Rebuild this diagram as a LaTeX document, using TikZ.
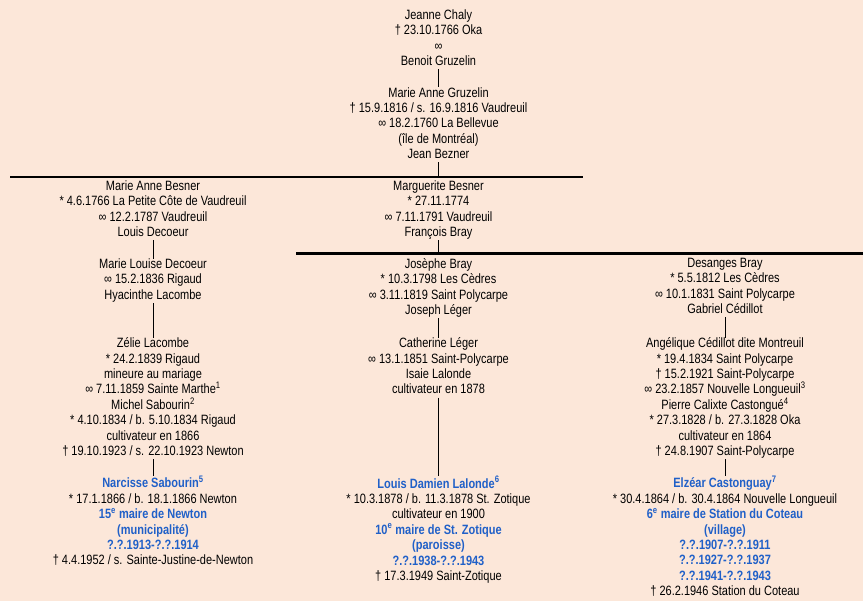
\documentclass[tikz,border=0pt]{standalone}
\usepackage{fontspec}
\setmainfont{Liberation Sans}[FakeStretch=0.815]
\definecolor{peach}{RGB}{252,231,217}
\definecolor{maireblue}{RGB}{32,96,200}
\newcommand\maire[1]{{\bfseries\color{maireblue}#1}}
\begin{document}
\begin{tikzpicture}[x=1pt,y=-1pt,
  person/.style={align=center,anchor=north,inner sep=0pt,
    font=\fontsize{13.5}{15.4}\selectfont,
    execute at begin node=\rule{0pt}{12.5pt},
    execute at end node=\rule[-3.5pt]{0pt}{3.5pt}},
  kin/.style={line width=0.9pt},
  sibs/.style={line width=2.2pt}]
\fill[peach] (0,0) rectangle (863,601);
\useasboundingbox (0,0) rectangle (863,601);
\coordinate (rowA) at (10,177);
\coordinate (rowAend) at (583,177);
\coordinate (rowB) at (296,253.5);
\coordinate (rowBend) at (863,253.5);
\node[person] (chaly) at (438.5,9.3) {Jeanne Chaly\\† 23.10.1766 Oka\\∞\\Benoit Gruzelin};
\node[person] (gruzelin) at (438.5,87.05) {Marie Anne Gruzelin\\† 15.9.1816 / s. 16.9.1816 Vaudreuil\\∞ 18.2.1760 La Bellevue\\(île de Montréal)\\Jean Bezner};
\node[person] (besnerA) at (153,180.35) {Marie Anne Besner\\* 4.6.1766 La Petite Côte de Vaudreuil\\∞ 12.2.1787 Vaudreuil\\Louis Decoeur};
\node[person] (besnerM) at (438.5,180.35) {Marguerite Besner\\* 27.11.1774\\∞ 7.11.1791 Vaudreuil\\François Bray};
\node[person] (decoeur) at (153,258.6) {Marie Louise Decoeur\\∞ 15.2.1836 Rigaud\\Hyacinthe Lacombe};
\node[person] (josephe) at (438.5,258.1) {Josèphe Bray\\* 10.3.1798 Les Cèdres\\∞ 3.11.1819 Saint Polycarpe\\Joseph Léger};
\node[person] (desanges) at (725,258.1) {Desanges Bray\\* 5.5.1812 Les Cèdres\\∞ 10.1.1831 Saint Polycarpe\\Gabriel Cédillot};
\node[person] (zelie) at (153,337.6) {Zélie Lacombe\\* 24.2.1839 Rigaud\\mineure au mariage\\∞ 7.11.1859 Sainte Marthe\textsuperscript{1}\\Michel Sabourin\textsuperscript{2}\\* 4.10.1834 / b. 5.10.1834 Rigaud\\cultivateur en 1866\\† 19.10.1923 / s. 22.10.1923 Newton};
\node[person] (catherine) at (438.5,337.6) {Catherine Léger\\∞ 13.1.1851 Saint-Polycarpe\\Isaie Lalonde\\cultivateur en 1878};
\node[person] (angelique) at (725,337.6) {Angélique Cédillot dite Montreuil\\* 19.4.1834 Saint Polycarpe\\† 15.2.1921 Saint-Polycarpe\\∞ 23.2.1857 Nouvelle Longueuil\textsuperscript{3}\\Pierre Calixte Castongué\textsuperscript{4}\\* 27.3.1828 / b. 27.3.1828 Oka\\cultivateur en 1864\\† 24.8.1907 Saint-Polycarpe};
\node[person] (narcisse) at (153,476) {\maire{Narcisse Sabourin\textsuperscript{5}}\\* 17.1.1866 / b. 18.1.1866 Newton\\\maire{15\textsuperscript{e} maire de Newton}\\\maire{(municipalité)}\\\maire{?.?.1913-?.?.1914}\\† 4.4.1952 / s. Sainte-Justine-de-Newton};
\node[person] (louis) at (438.5,476) {\maire{Louis Damien Lalonde\textsuperscript{6}}\\* 10.3.1878 / b. 11.3.1878 St. Zotique\\cultivateur en 1900\\\maire{10\textsuperscript{e} maire de St. Zotique}\\\maire{(paroisse)}\\\maire{?.?.1938-?.?.1943}\\† 17.3.1949 Saint-Zotique};
\node[person] (elzear) at (725,476) {\maire{Elzéar Castonguay\textsuperscript{7}}\\* 30.4.1864 / b. 30.4.1864 Nouvelle Longueuil\\\maire{6\textsuperscript{e} maire de Station du Coteau}\\\maire{(village)}\\\maire{?.?.1907-?.?.1911}\\\maire{?.?.1927-?.?.1937}\\\maire{?.?.1941-?.?.1943}\\† 26.2.1946 Station du Coteau};
\draw [sibs] (rowA) -- (rowAend);
\draw [sibs] (rowB) -- (rowBend);
\draw [kin] (gruzelin.south) -- (gruzelin.south |- rowA);
\draw [kin] (besnerM.south) -- (besnerM.south |- rowB);
\foreach \a/\b in {chaly/gruzelin,besnerA/decoeur,decoeur/zelie,zelie/narcisse,josephe/catherine,catherine/louis,desanges/angelique,angelique/elzear}
	\draw [kin] (\a.south) -- (\b.north);
\end{tikzpicture}
\end{document}
